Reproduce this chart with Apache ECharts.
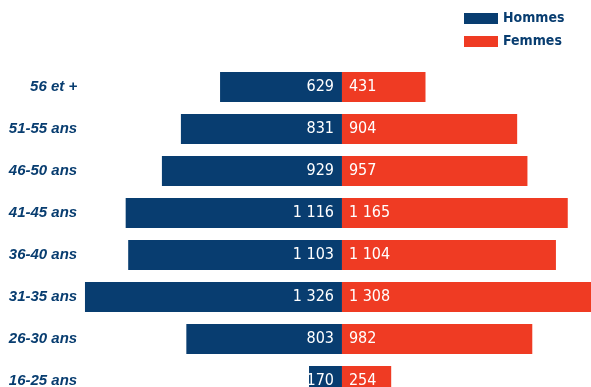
<!DOCTYPE html>
<html>
<head>
<meta charset="utf-8">
<style>
  html, body { margin: 0; padding: 0; background: #ffffff; }
  #chart { width: 591px; height: 387px; }
</style>
<script src="https://cdn.jsdelivr.net/npm/echarts@6/dist/echarts.min.js"></script>
</head>
<body>
<div id="chart"></div>
<script>
// Age brackets, top to bottom
const ageGroups = ['56 et +', '51-55 ans', '46-50 ans', '41-45 ans', '36-40 ans', '31-35 ans', '26-30 ans', '16-25 ans'];
const hommes = [629, 831, 929, 1116, 1103, 1326, 803, 170];
const femmes = [431, 904, 957, 1165, 1104, 1308, 982, 254];

const NAVY = '#083d70';
const RED = '#ef3b23';
const CONDENSED = '"DejaVu Sans Condensed", "Liberation Sans Narrow", sans-serif';

// French-style thousands separator
const fmt = v => String(Math.abs(v)).replace(/\B(?=(\d{3})+(?!\d))/g, ' ');

const chart = echarts.init(document.getElementById('chart'), null, { renderer: 'canvas' });

const barLabel = {
  show: true,
  color: '#ffffff',
  fontFamily: CONDENSED,
  fontSize: 16,
  formatter: p => fmt(p.value)
};

chart.setOption({
  animation: false,
  backgroundColor: '#ffffff',
  legend: {
    left: 464,
    top: 11,
    padding: 0,
    orient: 'vertical',
    itemWidth: 34,
    itemHeight: 11,
    itemGap: 8,
    icon: 'rect',
    textStyle: {
      color: NAVY,
      fontFamily: CONDENSED,
      fontWeight: 'bold',
      fontSize: 14,
      lineHeight: 15
    },
    data: ['Hommes', 'Femmes']
  },
  grid: {
    left: 84.2, top: 66, width: 529.1, height: 336,
    containLabel: false,
    outerBoundsMode: 'none'
  },
  xAxis: {
    type: 'value',
    min: -1330,
    max: 1400,
    show: false
  },
  yAxis: {
    type: 'category',
    data: ageGroups,
    inverse: true,
    axisLine: { show: false },
    axisTick: { show: false },
    splitLine: { show: false },
    axisLabel: {
      margin: 7,
      color: NAVY,
      fontFamily: '"Liberation Sans", Arial, sans-serif',
      fontWeight: 'bold',
      fontStyle: 'italic',
      fontSize: 15
    }
  },
  series: [
    {
      name: 'Hommes',
      type: 'bar',
      data: hommes.map(v => -v),
      barWidth: 30,
      barGap: '-100%',
      itemStyle: { color: NAVY },
      label: Object.assign({ position: 'insideRight', distance: 8 }, barLabel)
    },
    {
      name: 'Femmes',
      type: 'bar',
      data: femmes,
      barWidth: 30,
      barGap: '-100%',
      itemStyle: { color: RED },
      label: Object.assign({ position: 'insideLeft', distance: 7 }, barLabel)
    }
  ]
});
</script>
</body>
</html>
